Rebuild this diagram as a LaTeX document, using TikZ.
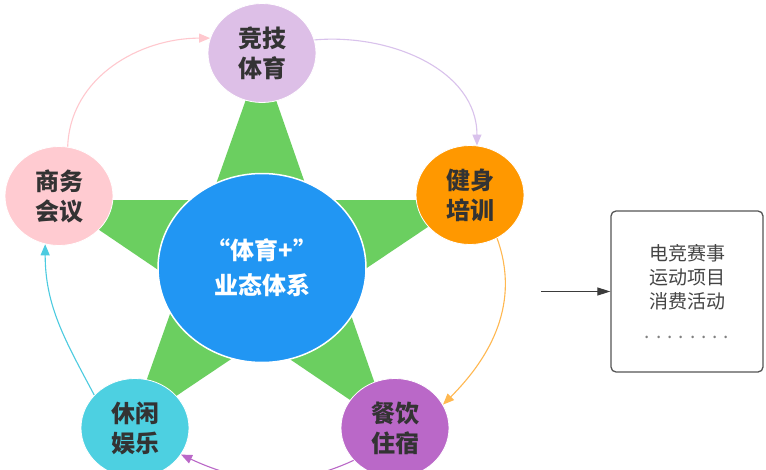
\documentclass[tikz,border=0pt]{standalone}
\usepackage{fontspec}
\setmainfont{Noto Sans CJK SC}
\usetikzlibrary{shapes.geometric,arrows.meta}
\definecolor{cjj}{HTML}{DDBFE7}
\definecolor{csw}{HTML}{FFCBD1}
\definecolor{cjs}{HTML}{FF9800}
\definecolor{cxx}{HTML}{4DD0E1}
\definecolor{ccy}{HTML}{BA68C8}
\definecolor{ccenter}{HTML}{2196F3}
\definecolor{cstar}{HTML}{6BCF60}
\definecolor{apink}{HTML}{FFC8CE}
\definecolor{apurple}{HTML}{D9C2EC}
\definecolor{aorange}{HTML}{FFB850}
\definecolor{acyan}{HTML}{4CCBE0}
\definecolor{apurple2}{HTML}{BA68C8}
\definecolor{txtdark}{HTML}{333333}
\definecolor{boxline}{HTML}{555555}
\definecolor{boxtxt}{HTML}{444444}
\tikzset{
  bubble/.style={ellipse, minimum width=108pt, minimum height=99pt, inner sep=0pt,
    draw=white, line width=0.8pt, align=center, text=txtdark,
    font=\fontsize{24}{30}\selectfont\bfseries},
  centre/.style={ellipse, minimum width=208pt, minimum height=189pt, inner sep=0pt,
    fill=ccenter, draw=white, line width=1.5pt, align=center, text=white,
    font=\fontsize{24}{35}\selectfont\bfseries},
  flow/.style={line width=1.1pt, -{Triangle[length=11pt,width=9pt]}},
  infobox/.style={draw=boxline, line width=1.3pt, rounded corners=5pt, fill=white,
    minimum width=152pt, minimum height=161pt, inner sep=0pt, align=center,
    text=boxtxt, font=\fontsize{19}{24}\selectfont}
}
\begin{document}
\begin{tikzpicture}[x=1pt,y=-1pt]
\useasboundingbox[fill=white] (0,0) rectangle (766,469);
% star outer points
\coordinate (pT) at (261,57);
\coordinate (pL) at (55,200);
\coordinate (pR) at (468,200);
\coordinate (pBL) at (130,427);
\coordinate (pBR) at (390,427);
\fill[cstar, nonzero rule] (pT) -- (pBR) -- (pL) -- (pR) -- (pBL) -- cycle;
% centre
\node[centre] (core) at (262,268) {“体育+”\\业态体系};
% bubbles
\node[bubble, fill=cjj] (jj) at (262,53) {竞技\\体育};
\node[bubble, fill=csw] (sw) at (59,196) {商务\\会议};
\node[bubble, fill=cjs] (js) at (470,195) {健身\\培训};
\node[bubble, fill=cxx] (xx) at (135,428) {休闲\\娱乐};
\node[bubble, fill=ccy] (cy) at (395,428) {餐饮\\住宿};
% cycle arrows
\draw[flow, apink] (sw.80) to[out=88, in=180] (jj.164);
\draw[flow, apurple] (jj.14) to[out=5, in=90] (js.82);
\draw[flow, aorange] (js.-58) to[out=-70, in=45] (cy.26);
\draw[flow, apurple2] (cy.218) to[out=205, in=-25] (xx.330);
\draw[flow, acyan] (xx.141) to[out=118, in=-90] (sw.254);
% info box
\node[infobox] (info) at (687,291.5) {电竞赛事\\运动项目\\消费活动\\[6pt]
  {\color{gray}.\hspace{6pt}.\hspace{6pt}.\hspace{6pt}.\hspace{6pt}.\hspace{6pt}.\hspace{6pt}.\hspace{6pt}.}};
\coordinate (src) at (541,291.5);
\draw[line width=1.1pt, boxline!70!black, -{Triangle[length=13pt,width=8pt]}] (src) -- (info.west);
\end{tikzpicture}
\end{document}
